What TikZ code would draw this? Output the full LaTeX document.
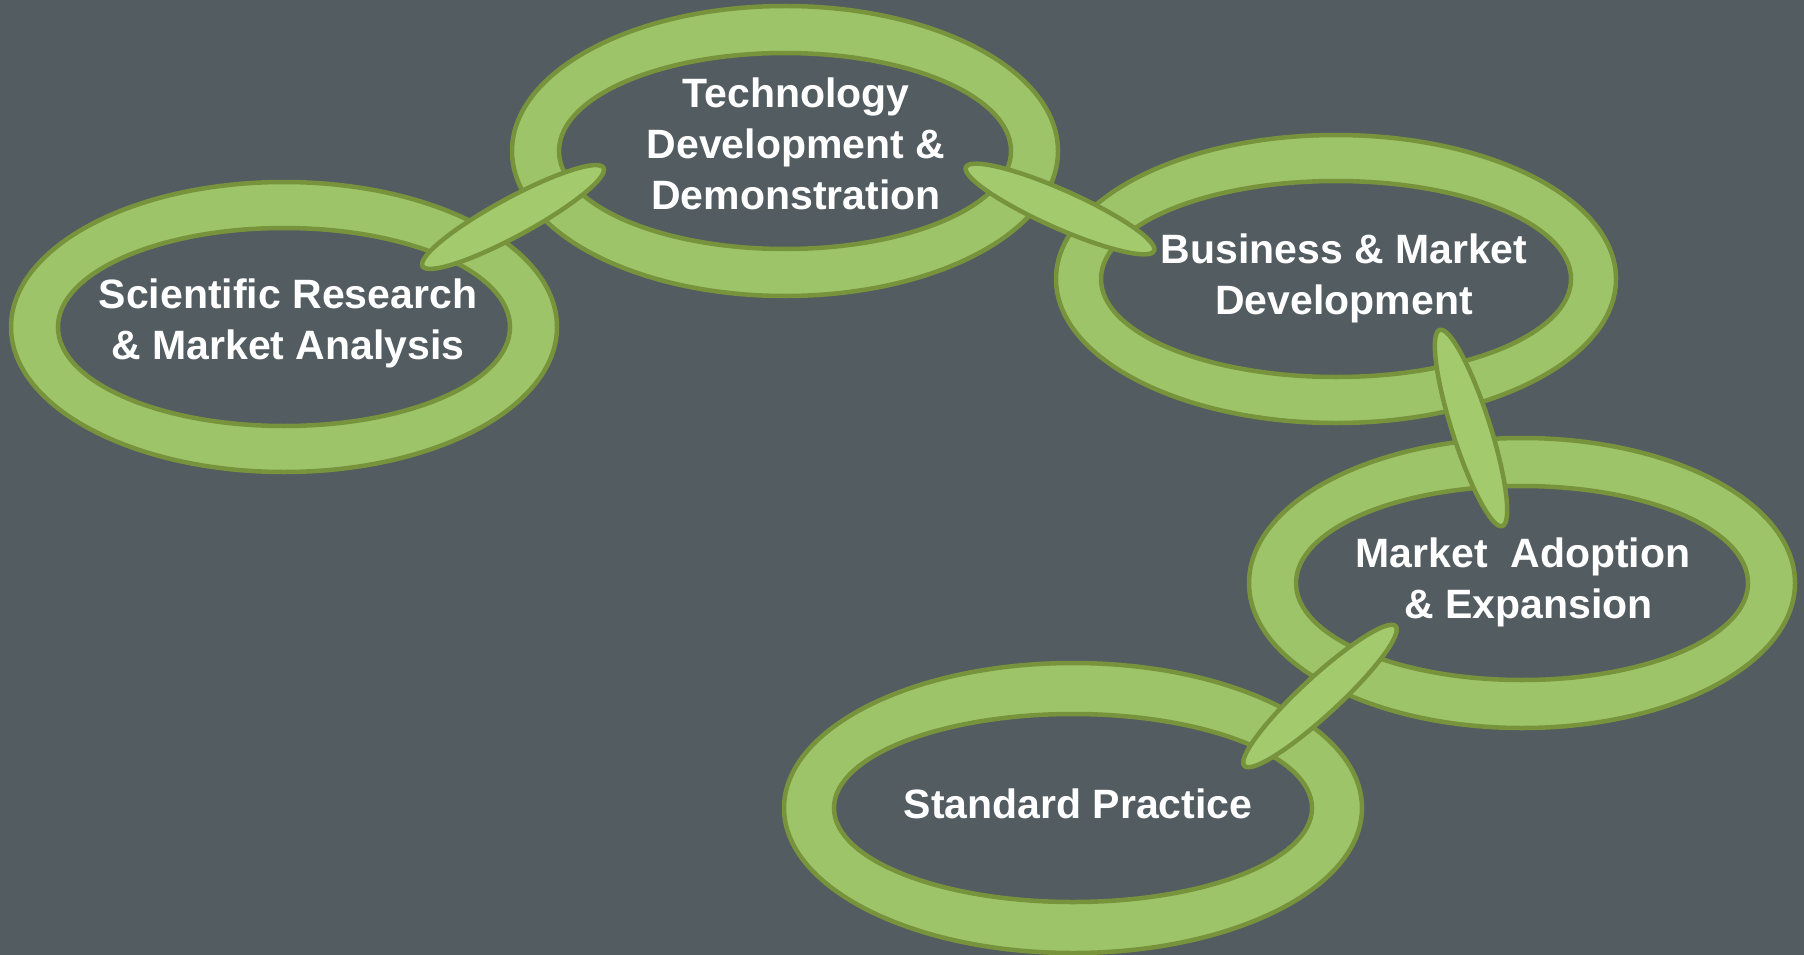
\documentclass[tikz,border=0pt]{standalone}
\usepackage{fontspec}
\setmainfont{Liberation Sans}
\usepackage{xcolor}
\usepackage{tikz}
\usetikzlibrary{shapes.geometric, positioning}
\definecolor{slate}{HTML}{525C61}
\definecolor{ringfill}{HTML}{9EC46A}
\definecolor{ringline}{HTML}{77933C}
\definecolor{linkfill}{HTML}{A3CB6E}
\tikzstyle{ring}  = [fill=ringfill, draw=ringline, line width=4.5pt, even odd rule]
\tikzstyle{chain} = [ellipse, fill=linkfill, draw=ringline, line width=4.5pt, inner sep=0pt, minimum width=206pt, minimum height=38pt]
\tikzstyle{label} = [text=white, font=\fontsize{41}{51}\selectfont\bfseries, align=center]

\begin{document}
\begin{tikzpicture}[x=1pt, y=1pt]
  % Background
  \fill[slate] (0,0) rectangle (1804,-955);
  \useasboundingbox (0,0) rectangle (1804,-955);
  % Rings (centre x/y, outer rx/ry, inner rx/ry)
  \foreach \cx/\cy/\ox/\oy/\ix/\iy in {284/327/273/145/226/99, 785/151/273/145/226/98,
      1336/279/280/144/235/98, 1522/583/273/145/226/97, 1073/808/289/145/239/94}
      \path[ring] (\cx,-\cy) ellipse [x radius=\ox, y radius=\oy]
                  (\cx,-\cy) ellipse [x radius=\ix, y radius=\iy];
  % Links between the rings
  \node[chain, rotate=28.5] (link1) at (513,-217) {};
  \node[chain, rotate=-24]  (link2) at (1060,-209) {};
  \node[chain, rotate=-72.3] (link3) at (1471,-428) {};
  \node[chain, rotate=42.7] (link4) at (1320,-696) {};
  % Stage labels
  \node[label] (sci)   at (288,-323) {Scientific Research\\ \& Market Analysis};
  \node[label] (tech)  at (796,-144) {Technology\\Development \&\\Demonstration};
  \node[label] (biz)   at (1344,-278) {Business \& Market\\Development};
  \node[label] (adopt) at (1523,-582) {Market\ \ Adoption\\\ \& Expansion};
  \node[label] (std)   at (1078,-804) {Standard Practice};
\end{tikzpicture}
\end{document}
